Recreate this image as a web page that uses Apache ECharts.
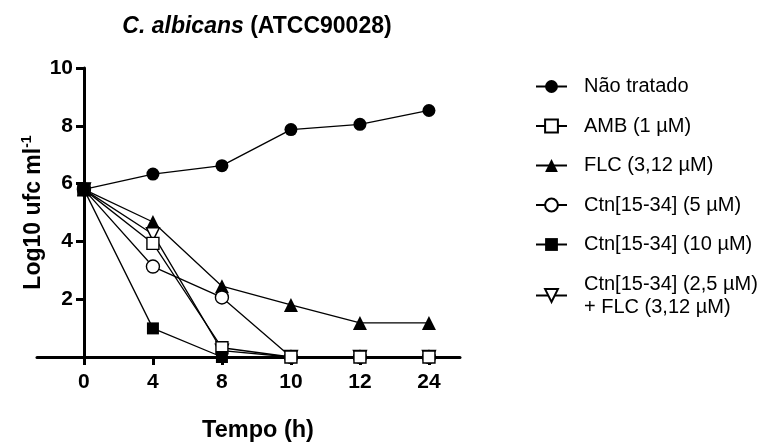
<!DOCTYPE html>
<html>
<head>
<meta charset="utf-8">
<script src="https://cdn.jsdelivr.net/npm/echarts@6/dist/echarts.min.js"></script>
<style>html,body{margin:0;padding:0;background:#fff}#c{width:766px;height:443px}</style>
</head>
<body>
<div id="c"></div>
<script>
const categories = ['0', '4', '8', '10', '12', '24'];
const seriesNames = ['Não tratado', 'AMB (1 µM)', 'FLC (3,12 µM)', 'Ctn[15-34] (5 µM)', 'Ctn[15-34] (10 µM)', 'Ctn[15-34] (2,5 µM)\n+ FLC (3,12 µM)'];
const naoTratado = [5.8, 6.33, 6.62, 7.87, 8.05, 8.53];
const amb = [5.8, 3.93, 0.32, 0, 0, 0];
const flc = [5.8, 4.67, 2.45, 1.8, 1.18, 1.18];
const ctn5 = [5.8, 3.13, 2.06, 0, 0, 0];
const ctn10 = [5.8, 0.99, 0, null, null, null];
const ctnFlc = [5.8, 4.25, 0.22, 0, 0, 0];
const yTicks = [2, 4, 6, 8, 10];

const F = '"Liberation Sans", Arial, sans-serif';
const catIdx = categories.map((c, i) => i);
const toPts = arr => arr.map((v, i) => [i, v]);

function mk(name, data, symbol, filled, size, z, rotate) {
  return {
    name: name, type: 'line', data: toPts(data), symbol: symbol, symbolSize: size,
    symbolRotate: rotate || 0, clip: false, z: z, connectNulls: false,
    lineStyle: { color: '#000', width: 1.3 },
    itemStyle: { color: filled ? '#000' : '#fff', borderColor: '#000', borderWidth: filled ? 0 : 1.4 },
    emphasis: { disabled: true }, animation: false
  };
}

const chart = echarts.init(document.getElementById('c'), null, { renderer: 'canvas' });
chart.setOption({
  animation: false,
  textStyle: { fontFamily: F },
  title: [
    { text: '{i|C. albicans} (ATCC90028)', left: 257, top: 15, padding: 0, textAlign: 'center',
      textStyle: { fontFamily: F, fontSize: 23, fontWeight: 'bold', color: '#000',
        rich: { i: { fontFamily: F, fontSize: 23, fontWeight: 'bold', fontStyle: 'italic', color: '#000' } } } },
    { text: 'Tempo (h)', left: 258, top: 419, padding: 0, textAlign: 'center',
      textStyle: { fontFamily: F, fontSize: 23.5, fontWeight: 'bold', color: '#000' } }
  ],
  grid: { left: 37, right: 306, top: 68, bottom: 86, containLabel: false, outerBoundsMode: 'none' },
  xAxis: {
    type: 'value', min: -0.68, max: 5.45,
    axisLine: { show: true, onZero: false, lineStyle: { color: '#000', width: 3 } },
    axisTick: { show: true, customValues: catIdx, length: 8, inside: false, lineStyle: { color: '#000', width: 3 } },
    axisLabel: { customValues: catIdx, formatter: v => categories[Math.round(v)], margin: 15,
      fontFamily: F, fontSize: 21, fontWeight: 'bold', color: '#000' },
    splitLine: { show: false }
  },
  yAxis: {
    type: 'value', min: 0, max: 10, offset: -47,
    name: '{b|Log10 ufc ml}{s|-1}', nameLocation: 'middle', nameRotate: 90, nameGap: 36,
    nameMoveOverlap: false,
    nameTextStyle: { fontFamily: F, fontSize: 23, fontWeight: 'bold', color: '#000',
      rich: { b: { fontFamily: F, fontSize: 23, fontWeight: 'bold', color: '#000', lineHeight: 28 },
              s: { fontFamily: F, fontSize: 14, fontWeight: 'bold', color: '#000', verticalAlign: 'top', lineHeight: 28, padding: [0, 0, 10, 0] } } },
    axisLine: { show: true, onZero: false, lineStyle: { color: '#000', width: 3 } },
    axisTick: { show: true, customValues: yTicks, length: 8, lineStyle: { color: '#000', width: 3 } },
    axisLabel: { customValues: yTicks, margin: 11, fontFamily: F, fontSize: 21, fontWeight: 'bold', color: '#000' },
    splitLine: { show: false }
  },
  legend: {
    orient: 'vertical', left: 530, top: 70, itemWidth: 31, itemHeight: 16, itemGap: 16.5,
    textStyle: { fontFamily: F, fontSize: 20, color: '#000', lineHeight: 23, padding: [0, 0, 0, 12] },
    data: seriesNames,
    selectedMode: false
  },
  series: [
    mk(seriesNames[0], naoTratado, 'circle', true, 13, 2),
    mk(seriesNames[2], flc, 'triangle', true, 14, 3),
    mk(seriesNames[3], ctn5, 'circle', false, 13, 4),
    mk(seriesNames[5], ctnFlc, 'triangle', false, 13, 5, 180),
    mk(seriesNames[1], amb, 'rect', false, 12, 6),
    mk(seriesNames[4], ctn10, 'rect', true, 12, 7)
  ]
});
</script>
</body>
</html>
